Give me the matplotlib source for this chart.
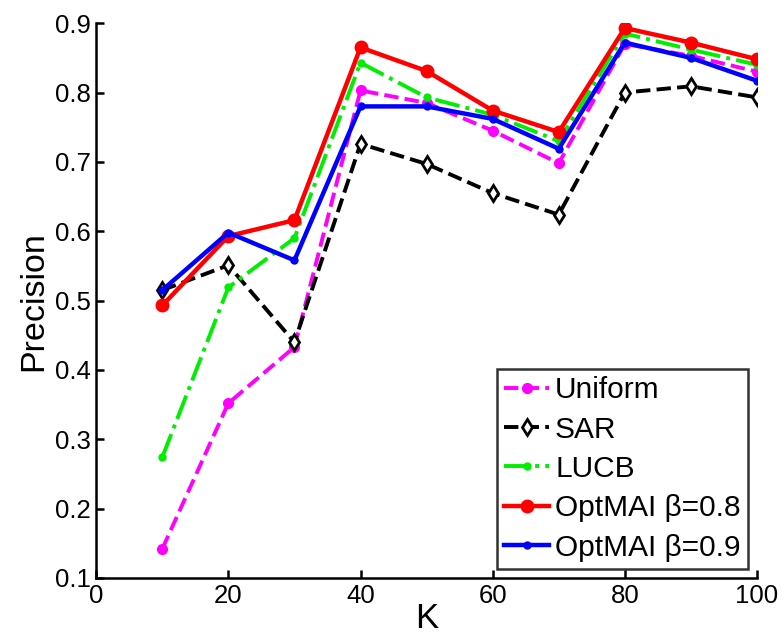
import matplotlib.pyplot as plt

plt.rcParams['font.family'] = ['Liberation Sans', 'DejaVu Sans']

K = [10, 20, 30, 40, 50, 60, 70, 80, 90, 100]
uniform = [0.142, 0.352, 0.433, 0.803, 0.785, 0.745, 0.698, 0.870, 0.853, 0.830]
sar = [0.515, 0.551, 0.440, 0.726, 0.697, 0.655, 0.624, 0.800, 0.809, 0.793]
lucb = [0.274, 0.519, 0.590, 0.843, 0.793, 0.768, 0.730, 0.885, 0.862, 0.840]
opt08 = [0.493, 0.593, 0.616, 0.865, 0.831, 0.774, 0.743, 0.893, 0.872, 0.848]
opt09 = [0.515, 0.598, 0.558, 0.780, 0.780, 0.762, 0.719, 0.872, 0.850, 0.817]

fig = plt.figure(figsize=(7.82, 6.44), dpi=100)
ax = fig.add_axes([0.123, 0.1025, 0.845, 0.8615])

ax.plot(K, uniform, '--', color='magenta', lw=2.8, marker='o', ms=7, label='Uniform')
ax.plot(K, sar, '--', color='black', lw=2.8, marker='d', ms=8, mfc='white', mew=2,
        label='SAR')
ax.plot(K, lucb, '-.', color='#00ee00', lw=2.8, marker='o', ms=5, label='LUCB')
ax.plot(K, opt08, '-', color='red', lw=3.2, marker='o', ms=9, label='OptMAI β=0.8')
ax.plot(K, opt09, '-', color='blue', lw=3.2, marker='o', ms=5, label='OptMAI β=0.9')

ax.set_xlim(0, 100)
ax.set_ylim(0.1, 0.9)
ax.set_xticks(range(0, 101, 20))
ax.set_yticks([0.1, 0.2, 0.3, 0.4, 0.5, 0.6, 0.7, 0.8, 0.9])
ax.set_yticklabels(['0.1', '0.2', '0.3', '0.4', '0.5', '0.6', '0.7', '0.8', '0.9'])
ax.spines['top'].set_visible(False)
ax.spines['right'].set_visible(False)
ax.spines['left'].set_linewidth(1.8)
ax.spines['bottom'].set_linewidth(1.8)
ax.tick_params(direction='in', length=6, width=1.8, labelsize=18.5, pad=4)
ax.set_xlabel('K', fontsize=25, labelpad=-4)
ax.set_ylabel('Precision', fontsize=24.5, labelpad=4)

leg = ax.legend(loc='lower right', fontsize=21.5, frameon=True, fancybox=False,
                edgecolor='black', handlelength=1.5, handletextpad=0.2,
                borderpad=0.25, labelspacing=0.38, borderaxespad=0.3)
leg.get_frame().set_linewidth(1.8)

fig.savefig('out.png', dpi=100)
